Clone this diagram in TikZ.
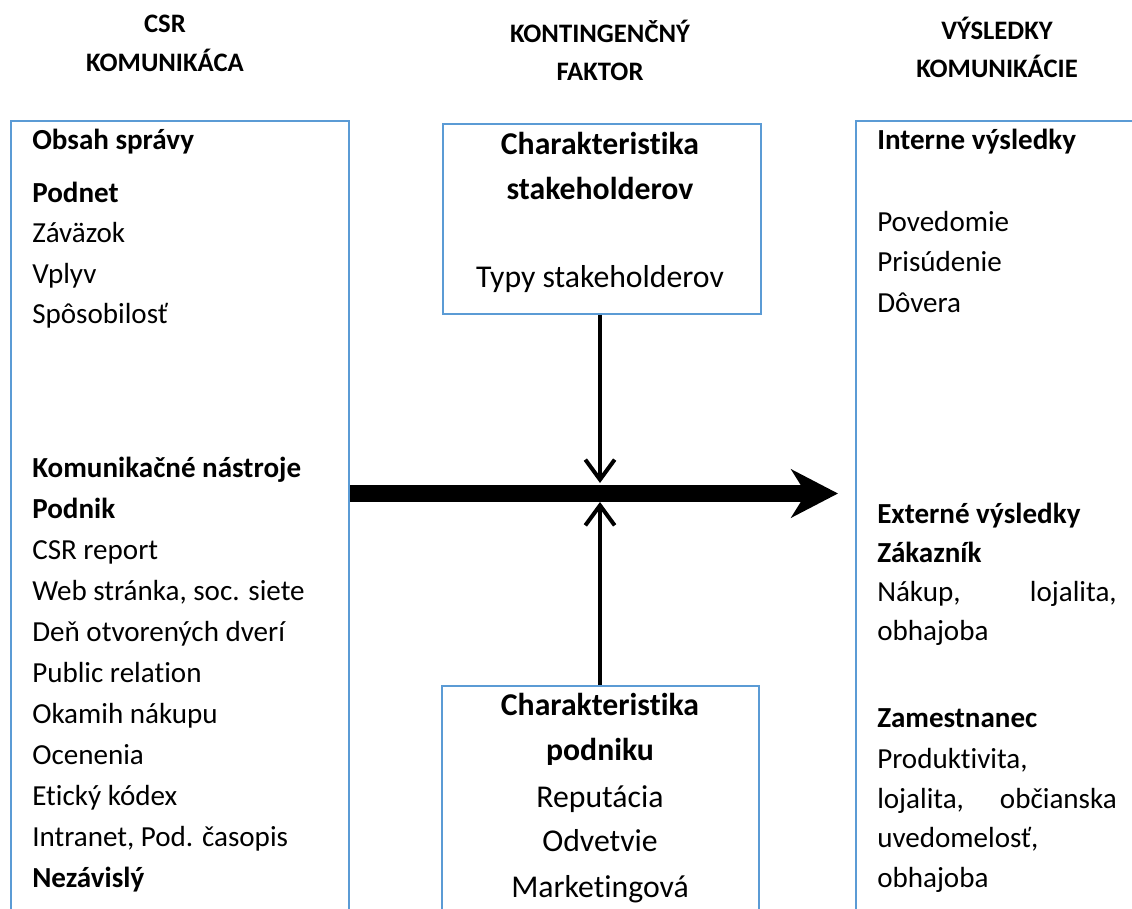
\documentclass[tikz,border=0pt]{standalone}
\usepackage{fontspec}
\setmainfont{Carlito}[Ligatures=NoCommon]
\usetikzlibrary{arrows.meta}
\definecolor{boxblue}{HTML}{5B9BD5}
\begin{document}
\begin{tikzpicture}[x=0.75pt,y=-0.75pt,
  frame/.style={draw=boxblue, line width=1.5pt, inner sep=0pt, anchor=north west},
  hd/.style={font=\fontsize{20}{24}\selectfont\bfseries, inner sep=0pt, anchor=base},
  txt/.style={font=\fontsize{21.8}{26}\selectfont, inner sep=0pt, anchor=base west},
  btxt/.style={txt, font=\fontsize{21.8}{26}\selectfont\bfseries},
  rtxt/.style={txt, anchor=base east},
  ctxt/.style={font=\fontsize{23.8}{28}\selectfont, inner sep=0pt, anchor=base},
  cbtxt/.style={ctxt, font=\fontsize{23.8}{28}\selectfont\bfseries},
  flow/.style={line width=12.75pt, -{Stealth[length=35pt,width=36pt,inset=11pt]}},
  infl/.style={line width=3pt, -{Straight Barb[length=15pt,width=22pt]}},
]
\clip (0,0) rectangle (1132,909);
\fill[white] (0,0) rectangle (1132,909);

% headers
\node[hd] (h1a) at (165,33) {CSR};
\node[hd] (h1b) at (165,72) {KOMUNIKÁCA};
\node[hd] (h2a) at (600,43) {KONTINGENČNÝ};
\node[hd] (h2b) at (600,81) {FAKTOR};
\node[hd] (h3a) at (997,40) {VÝSLEDKY};
\node[hd] (h3b) at (997,78) {KOMUNIKÁCIE};

% boxes
\node[frame, minimum width=253.5pt, minimum height=700pt] (lbox) at (10,120) {};
\node[frame, minimum width=238.5pt, minimum height=142.5pt] (ctop) at (442,123) {};
\node[frame, minimum width=237.75pt, minimum height=300pt] (cbot) at (441,685) {};
\node[frame, minimum width=260pt, minimum height=700pt] (rbox) at (855,120) {};

% left column
\node[btxt] (l1) at (32,150) {Obsah správy};
\node[btxt] (l2) at (32,203) {Podnet};
\node[txt] (l3) at (32,243) {Záväzok};
\node[txt] (l4) at (32,284) {Vplyv};
\node[txt] (l5) at (32,324) {Spôsobilosť};
\node[btxt] (l6) at (32,477) {Komunikačné nástroje};
\node[btxt] (l7) at (32,518) {Podnik};
\node[txt] (l8) at (32,559) {CSR report};
\node[txt] (l9) at (32,600) {Web stránka, soc. siete};
\node[txt] (l10) at (32,641) {Deň otvorených dverí};
\node[txt] (l11) at (32,682) {Public relation};
\node[txt] (l12) at (32,723) {Okamih nákupu};
\node[txt] (l13) at (32,764) {Ocenenia};
\node[txt] (l14) at (32,805) {Etický kódex};
\node[txt] (l15) at (32,846) {Intranet, Pod. časopis};
\node[btxt] (l16) at (32,887) {Nezávislý};

% center top
\node[cbtxt] (c1) at (600,155) {Charakteristika};
\node[cbtxt] (c2) at (600,200) {stakeholderov};
\node[ctxt] (c3) at (600,288) {Typy stakeholderov};

% center bottom
\node[cbtxt] (c4) at (600,715) {Charakteristika};
\node[cbtxt] (c5) at (600,760) {podniku};
\node[ctxt] (c6) at (600,807) {Reputácia};
\node[ctxt] (c7) at (600,851) {Odvetvie};
\node[ctxt] (c8) at (600,897) {Marketingová};

% right column
\node[btxt] (r1) at (877,150) {Interne výsledky};
\node[txt] (r2) at (877,232) {Povedomie};
\node[txt] (r3) at (877,272) {Prisúdenie};
\node[txt] (r4) at (877,313) {Dôvera};
\node[btxt] (r5) at (877,523) {Externé výsledky};
\node[btxt] (r6) at (877,562) {Zákazník};
\node[txt] (r7a) at (877,601) {Nákup,};
\node[rtxt] (r7b) at (1117,601) {lojalita,};
\node[txt] (r8) at (877,640) {obhajoba};
\node[btxt] (r9) at (877,727) {Zamestnanec};
\node[txt] (r10) at (877,768) {Produktivita,};
\node[txt] (r11a) at (877,808) {lojalita,};
\node[rtxt] (r11b) at (1117,808) {občianska};
\node[txt] (r12) at (877,847) {uvedomelosť,};
\node[txt] (r13) at (877,887) {obhajoba};

% connectors
\coordinate (meet) at (600,493.5);
\coordinate (tip) at (838,493.5);
\coordinate (vt) at (600,483);
\coordinate (vb) at (600,502);
\draw[flow] (lbox.east |- meet) -- (tip);
\draw[infl] (vt |- ctop.south) -- (vt);
\draw[infl] (vb |- cbot.north) -- (vb);
\end{tikzpicture}
\end{document}
